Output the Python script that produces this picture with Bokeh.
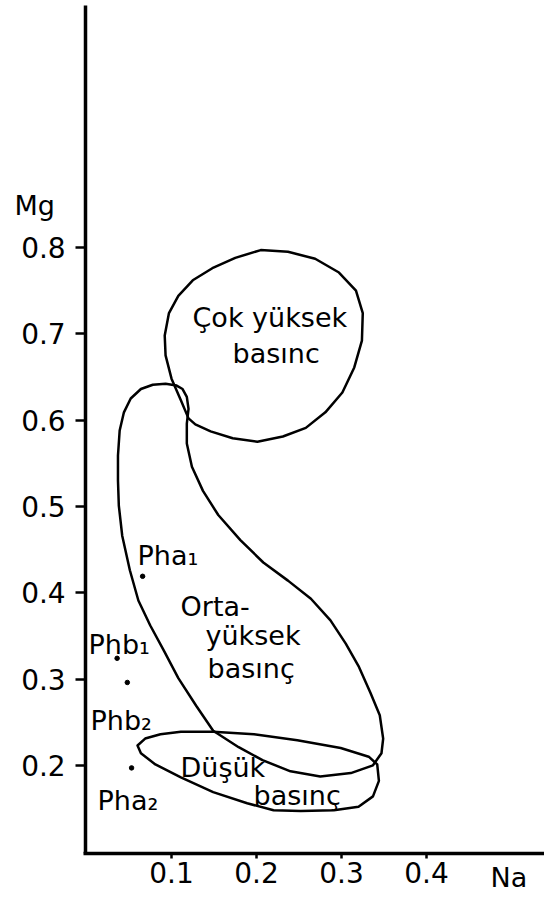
from bokeh.plotting import figure
from bokeh.models import FixedTicker, Range1d
from bokeh.embed import file_html
from bokeh.resources import INLINE
from bokeh.core.properties import value

# ---- data ----
x_ticks = [0.1, 0.2, 0.3, 0.4]
x_tick_labels = ["0.1", "0.2", "0.3", "0.4"]
y_ticks = [0.2, 0.3, 0.4, 0.5, 0.6, 0.7, 0.8]
y_tick_labels = ["0.2", "0.3", "0.4", "0.5", "0.6", "0.7", "0.8"]
x_name = "Na"
y_name = "Mg"

# field outlines (Na, Mg)
cok_na = [0.120, 0.111, 0.100, 0.093, 0.092, 0.097, 0.108, 0.125, 0.148, 0.175, 0.205,
          0.237, 0.269, 0.297, 0.317, 0.325, 0.324, 0.315, 0.301, 0.281, 0.258, 0.231,
          0.201, 0.172, 0.146, 0.128]
cok_mg = [0.602, 0.623, 0.648, 0.675, 0.698, 0.724, 0.744, 0.762, 0.776, 0.788, 0.797,
          0.795, 0.787, 0.771, 0.750, 0.724, 0.692, 0.661, 0.632, 0.609, 0.591, 0.581,
          0.575, 0.579, 0.587, 0.595]

orta_na = [0.106, 0.093, 0.078, 0.064, 0.052, 0.044, 0.039, 0.037, 0.037, 0.038, 0.042,
           0.051, 0.061, 0.075, 0.091, 0.108, 0.129, 0.149, 0.179, 0.207, 0.240, 0.275,
           0.311, 0.337, 0.347, 0.349, 0.345, 0.334, 0.320, 0.305, 0.287, 0.264, 0.237,
           0.208, 0.181, 0.155, 0.137, 0.124, 0.118, 0.118, 0.120, 0.118, 0.113]
orta_mg = [0.640, 0.642, 0.641, 0.636, 0.625, 0.609, 0.588, 0.559, 0.530, 0.501, 0.466,
           0.426, 0.391, 0.362, 0.333, 0.301, 0.269, 0.240, 0.221, 0.206, 0.193, 0.187,
           0.191, 0.200, 0.214, 0.231, 0.258, 0.284, 0.315, 0.341, 0.368, 0.393, 0.414,
           0.435, 0.461, 0.490, 0.518, 0.546, 0.573, 0.596, 0.613, 0.627, 0.636]

dusuk_na = [0.060, 0.069, 0.087, 0.111, 0.149, 0.197, 0.248, 0.299, 0.332, 0.342, 0.344,
            0.337, 0.320, 0.291, 0.252, 0.220, 0.189, 0.149, 0.111, 0.081, 0.064]
dusuk_mg = [0.223, 0.231, 0.236, 0.239, 0.239, 0.236, 0.229, 0.220, 0.210, 0.201, 0.182,
            0.164, 0.152, 0.148, 0.147, 0.148, 0.156, 0.169, 0.186, 0.201, 0.214]

sample_na = [0.066, 0.036, 0.048, 0.053]
sample_mg = [0.419, 0.324, 0.296, 0.197]

FONT = "DejaVu Sans"

# axis origin (where the two axes cross) and extent
X0, Y0 = -0.001, 0.098
X_END, Y_END = 0.5388, 1.0804

p = figure(width=544, height=901, output_backend="svg", toolbar_location=None,
           x_range=Range1d(-0.1012, 0.5388), y_range=Range1d(0.0422, 1.0862),
           min_border_left=0, min_border_right=0, min_border_top=0, min_border_bottom=0,
           background_fill_color="white", border_fill_color="white")
p.outline_line_color = None
p.xgrid.visible = False
p.ygrid.visible = False

for ax in (p.xaxis, p.yaxis):
    ax.axis_line_width = 3.5
    ax.axis_line_color = "black"
    ax.minor_tick_line_color = None
    ax.major_tick_in = 0
    ax.major_tick_line_color = "black"
    ax.major_tick_line_width = 2.5
    ax.major_label_text_font = FONT
    ax.major_label_text_font_size = "28px"
    ax.major_label_text_color = "black"

p.xaxis.fixed_location = Y0
p.xaxis.bounds = (X0 - 0.003, X_END)
p.xaxis.ticker = FixedTicker(ticks=x_ticks)
p.xaxis.major_label_overrides = dict(zip(x_ticks, x_tick_labels))
p.xaxis.major_tick_out = 5
p.xaxis.major_label_standoff = 4

p.yaxis.fixed_location = X0
p.yaxis.bounds = (Y0, Y_END)
p.yaxis.ticker = FixedTicker(ticks=y_ticks)
p.yaxis.major_label_overrides = dict(zip(y_ticks, y_tick_labels))
p.yaxis.major_tick_out = 10
p.yaxis.major_label_standoff = 10

# fields
for xs, ys in ((cok_na, cok_mg), (orta_na, orta_mg), (dusuk_na, dusuk_mg)):
    p.patch(xs, ys, fill_color=None, line_color="black", line_width=2.5, line_join="round")

# samples
p.scatter(sample_na, sample_mg, size=4.5, color="black")

# texts
txt_x = [0.1247, 0.1718, 0.1106, 0.1400, 0.1424, 0.1106, 0.1965,
         0.0600, 0.0024, 0.0047, 0.0129]
txt_y = [0.7189, 0.6772, 0.3840, 0.3504, 0.3122, 0.1974, 0.1650,
         0.4431, 0.3400, 0.2519, 0.1592]
txt = ["Çok yüksek", "basınc", "Orta-", "yüksek", "basınç", "Düşük", "basınç",
       "Pha₁", "Phb₁", "Phb₂", "Pha₂"]
p.text(x=txt_x, y=txt_y, text=txt, text_font=value(FONT), text_font_size="27px",
       text_align="left", text_baseline="alphabetic", text_color="black")

# axis names
p.text(x=[-0.0847, 0.4753], y=[0.8487, 0.0700], text=[y_name, x_name],
       text_font=value(FONT), text_font_size="27px",
       text_align="left", text_baseline="alphabetic", text_color="black")

open("out.html", "w").write(file_html(p, INLINE))
